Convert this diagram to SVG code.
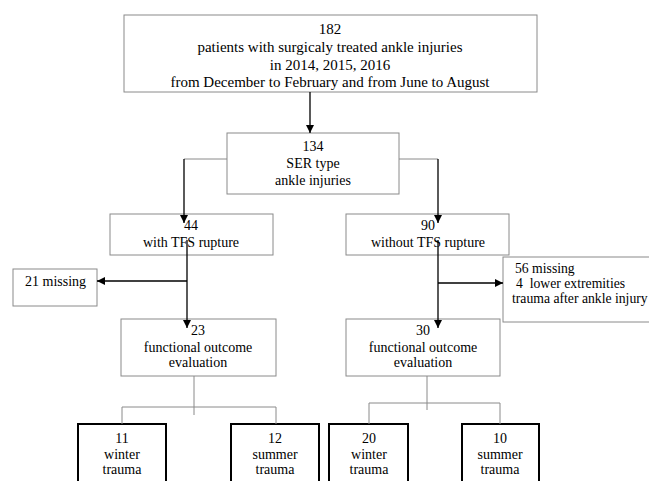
<svg xmlns="http://www.w3.org/2000/svg" width="649" height="481" viewBox="0 0 649 481" font-family="Liberation Serif, Times New Roman, serif" font-size="14">
<style>
text{fill:#000;text-anchor:middle}
.b{fill:#fff;stroke:#8a8a8a;stroke-width:1}
.t{fill:#fff;stroke:#000;stroke-width:2}
.k{fill:none;stroke:#000;stroke-width:1.3}
.g{fill:none;stroke:#8a8a8a;stroke-width:1}
.s{text-anchor:start}
</style>
<defs>
<marker id="ar" viewBox="0 0 10 10" refX="10" refY="5" markerWidth="8" markerHeight="8" markerUnits="userSpaceOnUse" orient="auto">
<path d="M0,0L10,5L0,10z" fill="#000"/>
</marker>
</defs>
<rect width="649" height="481" fill="#fff"/>
<g id="n182" font-size="15"><rect class="b" x="124" y="15" width="413" height="77"/>
<text x="330" y="34">182</text><text x="330" y="52">patients with surgicaly treated ankle injuries</text><text x="330" y="70">in 2014, 2015, 2016</text><text x="330" y="87">from December to February and from June to August</text></g>
<g id="n134"><rect class="b" x="227" y="133" width="172" height="61"/>
<text x="313" y="151">134</text><text x="313" y="168">SER type</text><text x="313" y="185">ankle injuries</text></g>
<g id="n44"><rect class="b" x="110" y="214" width="163" height="41"/>
<text x="191" y="230">44</text><text x="191" y="247">with TFS rupture</text></g>
<g id="n90"><rect class="b" x="346" y="214" width="163" height="41"/>
<text x="428" y="230">90</text><text x="428" y="247">without TFS rupture</text></g>
<g id="n21"><rect class="b" x="13" y="269" width="84" height="37"/>
<text class="s" x="25" y="286">21 missing</text></g>
<g id="n56" font-size="13.7"><rect class="b" x="503" y="257" width="150" height="65"/>
<text class="s" x="515" y="273">56 missing</text><text class="s" x="516" y="288" xml:space="preserve">4  lower extremities</text><text class="s" x="512" y="303">trauma after ankle injury</text></g>
<g id="n23"><rect class="b" x="121" y="319" width="155" height="57"/>
<text x="198" y="335">23</text><text x="198" y="352">functional outcome</text><text x="198" y="367">evaluation</text></g>
<g id="n30"><rect class="b" x="346" y="319" width="154" height="57"/>
<text x="423" y="335">30</text><text x="423" y="352">functional outcome</text><text x="423" y="367">evaluation</text></g>
<g id="n11"><rect class="t" x="78" y="424" width="88" height="70"/>
<text x="122" y="443">11</text><text x="122" y="459">winter</text><text x="122" y="474">trauma</text></g>
<g id="n12"><rect class="t" x="231" y="424" width="88" height="70"/>
<text x="275" y="443">12</text><text x="275" y="459">summer</text><text x="275" y="474">trauma</text></g>
<g id="n20"><rect class="t" x="329" y="424" width="79" height="70"/>
<text x="369" y="443">20</text><text x="369" y="459">winter</text><text x="369" y="474">trauma</text></g>
<g id="n10"><rect class="t" x="462" y="424" width="77" height="70"/>
<text x="500" y="443">10</text><text x="500" y="459">summer</text><text x="500" y="474">trauma</text></g>
<g id="connectors">
<path class="k" d="M310,92V133" marker-end="url(#ar)"/>
<path class="g" d="M227,159H184"/>
<path class="k" d="M184,159V223" marker-end="url(#ar)"/>
<path class="g" d="M399,159H438"/>
<path class="k" d="M438,159V223" marker-end="url(#ar)"/>
<path class="k" d="M187,240V328" marker-end="url(#ar)"/>
<path class="k" d="M187,281H97" marker-end="url(#ar)"/>
<path class="k" d="M438,240V328" marker-end="url(#ar)"/>
<path class="k" d="M438,283H503" marker-end="url(#ar)"/>
<path class="g" d="M194,376V415M122,424V407H276V424"/>
<path class="g" d="M427,376V410M369,424V403H500V424"/>
</g>
</svg>
